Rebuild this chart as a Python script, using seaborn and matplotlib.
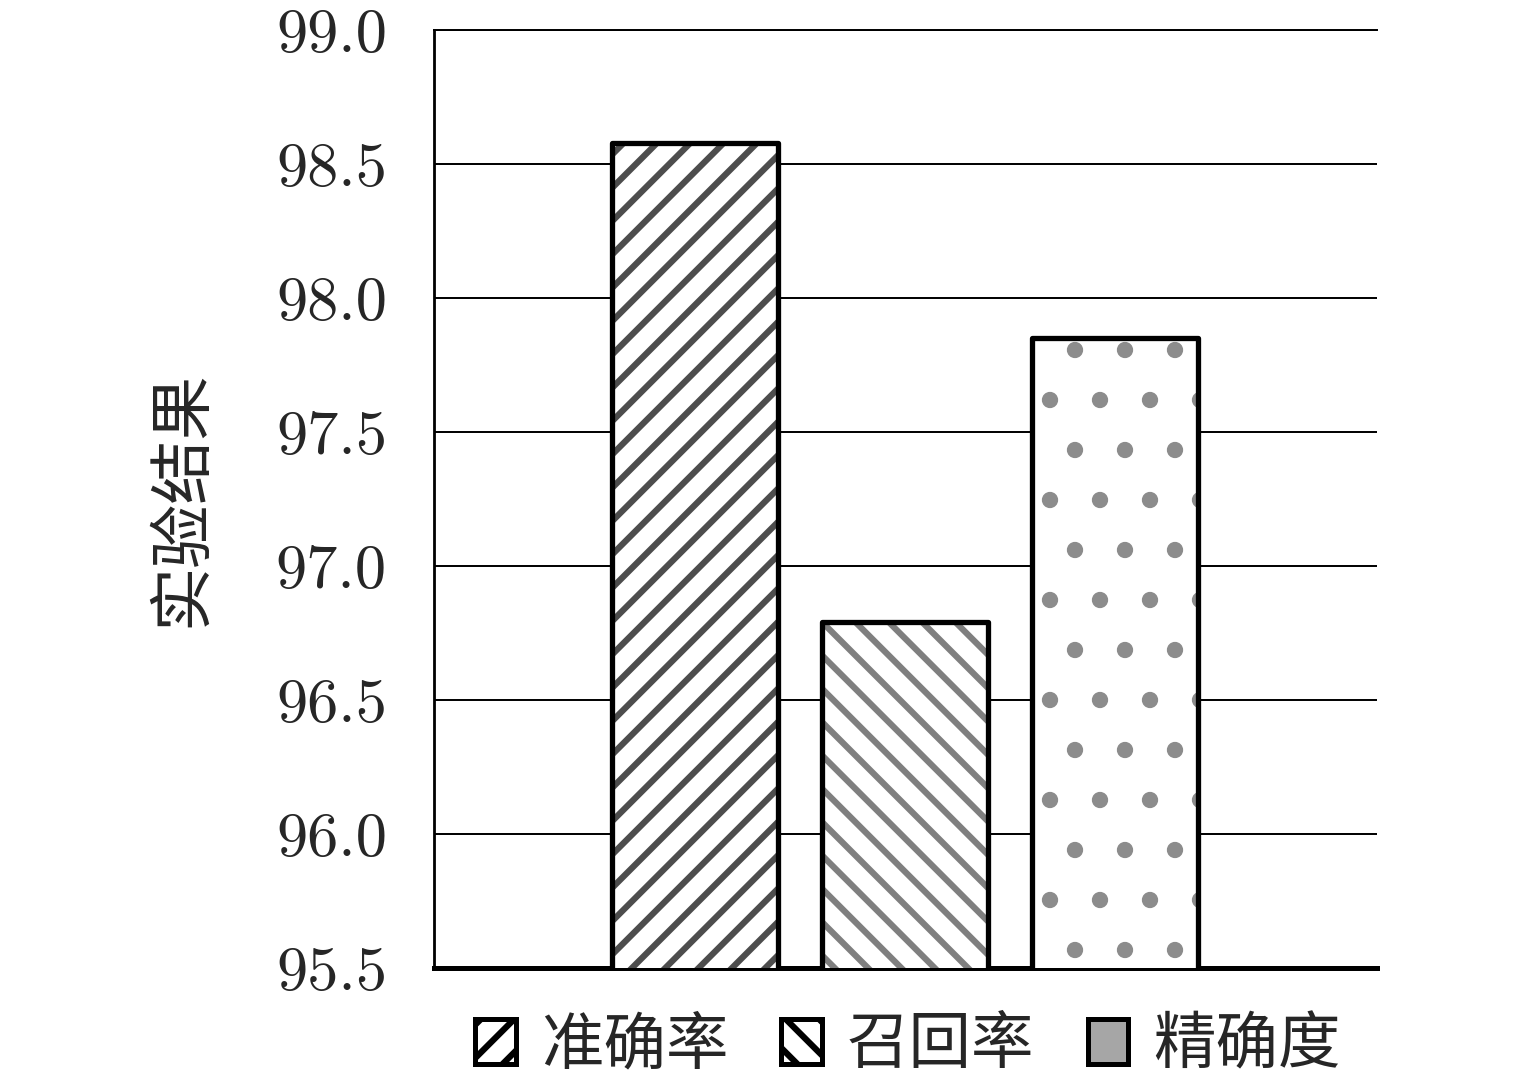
import numpy as np
import pandas as pd
import seaborn as sns
import matplotlib.pyplot as plt
from matplotlib.patches import Patch, Rectangle
from matplotlib.ticker import FormatStrFormatter

# 实验结果柱状图 (准确率 / 召回率 / 精确度)
metrics = ['准确率', '召回率', '精确度']
values = [98.58, 96.79, 97.85]
hatches = ['///', '\\\\\\', '.']
hatch_colors = ['#4d4d4d', '#7f7f7f', '#8c8c8c']
y_ticks = [95.5, 96.0, 96.5, 97.0, 97.5, 98.0, 98.5, 99.0]

sns.set_style('white')
plt.rcParams['font.family'] = ['cmr10', 'Noto Sans CJK SC', 'DejaVu Sans']
plt.rcParams['hatch.linewidth'] = 1.5
cjk = ['Noto Sans CJK SC', 'DejaVu Sans']

df = pd.DataFrame({'metric': metrics, 'value': values})

# dpi 300 so the hatch tiles come out as sparse as in the original
fig = plt.figure(figsize=(1535/300, 1082/300), dpi=300)
ax = fig.add_axes([434/1535, 1-968/1082, (1377-434)/1535, (968-30)/1082])

sns.barplot(data=df, x='metric', y='value', hue='metric', palette=['white']*3,
            width=0.79, legend=False, ax=ax, zorder=3)

for p, h, c in zip(ax.patches, hatches, hatch_colors):
    p.set_hatch(h)
    p.set_edgecolor(c)
    p.set_linewidth(0)
    # black outline on top, hatch keeps its gray colour
    ax.add_patch(Rectangle(p.get_xy(), p.get_width(), p.get_height(), fill=False,
                           edgecolor='black', linewidth=1.27, zorder=4,
                           joinstyle='round'))

ax.set_ylim(95.5, 99.0)
ax.set_xlim(-1.243, 3.248)
ax.set_yticks(y_ticks)
ax.yaxis.set_major_formatter(FormatStrFormatter('%.1f'))
ax.set_xticks([])
ax.set_xlabel('')
ax.set_ylabel('实验结果', fontsize=15.4, family=cjk, labelpad=14.5)
ax.tick_params(axis='y', labelsize=15, length=0, pad=11.3)

ax.grid(axis='y', color='black', linewidth=0.47, zorder=0)
ax.set_axisbelow(True)
ax.spines['right'].set_visible(False)
ax.spines['top'].set_linewidth(0.47)
ax.spines['left'].set_linewidth(0.67)
ax.spines['bottom'].set_linewidth(1.2)
for s in ax.spines.values():
    s.set_color('black')

handles = [Patch(facecolor='white', edgecolor='black', hatch='///', linewidth=1.2),
           Patch(facecolor='white', edgecolor='black', hatch='\\\\\\', linewidth=1.2),
           Patch(facecolor='#a6a6a6', edgecolor='black', linewidth=1.2)]
fig.legend(handles, metrics, loc='center', bbox_to_anchor=(908/1535, 0.034), ncol=3,
           frameon=False, prop={'family': cjk, 'size': 15},
           handlelength=0.65, handleheight=0.75, handletextpad=0.4, columnspacing=0.85)

fig.savefig('out.png', dpi=300)
